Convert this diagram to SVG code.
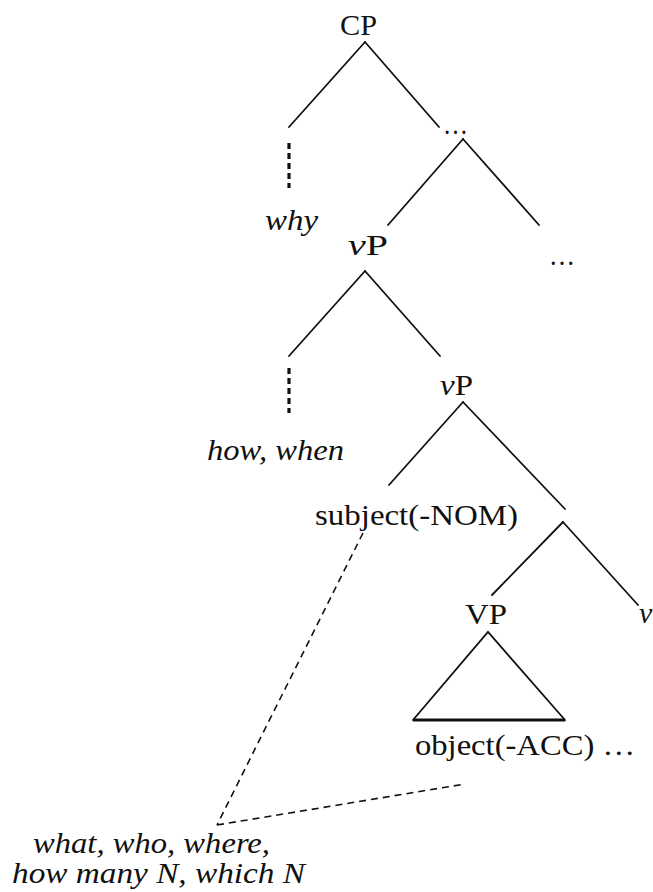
<svg xmlns="http://www.w3.org/2000/svg" width="653" height="892" viewBox="0 0 653 892">
<style>
text{font-family:"Liberation Serif","Times New Roman",serif;font-size:30px;fill:#111}
.i{font-style:italic}
.ln{stroke:#111;stroke-width:1.8;fill:none;stroke-linecap:round}
.dot{stroke:#111;stroke-width:3.2;stroke-dasharray:6 4;fill:none}
.dsh{stroke:#111;stroke-width:1.6;stroke-dasharray:7 5;fill:none}
.base{stroke:#111;stroke-width:3;fill:none}
</style>
<rect width="653" height="892" fill="#fff"/>
<g id="connectors">
<line class="ln" x1="365" y1="42" x2="289" y2="127"/>
<line class="ln" x1="365" y1="42" x2="439" y2="127"/>
<line class="ln" x1="463" y1="139" x2="388" y2="225"/>
<line class="ln" x1="463" y1="139" x2="539" y2="225"/>
<line class="dot" x1="289" y1="143" x2="289" y2="188"/>
<line class="ln" x1="365" y1="271" x2="289" y2="356"/>
<line class="ln" x1="365" y1="271" x2="440" y2="356"/>
<line class="dot" x1="289" y1="368" x2="289" y2="413"/>
<line class="ln" x1="463" y1="402" x2="389" y2="485"/>
<line class="ln" x1="463" y1="402" x2="565" y2="509"/>
<line class="ln" x1="563" y1="522" x2="492" y2="595"/>
<line class="ln" x1="563" y1="522" x2="638" y2="605"/>
<line class="dsh" x1="363" y1="533" x2="217" y2="825"/>
<line class="dsh" x1="217" y1="825" x2="465" y2="784"/>
</g>
<g id="CP"><text x="340" y="35" textLength="37" lengthAdjust="spacingAndGlyphs">CP</text></g>
<g id="dots1"><text x="443" y="134" textLength="25" lengthAdjust="spacingAndGlyphs">…</text></g>
<g id="why"><text class="i" x="265" y="230" textLength="53" lengthAdjust="spacingAndGlyphs">why</text></g>
<g id="vP1"><text x="348" y="255" textLength="40" lengthAdjust="spacingAndGlyphs"><tspan class="i">v</tspan>P</text></g>
<g id="dots2"><text x="549" y="265" textLength="26" lengthAdjust="spacingAndGlyphs">…</text></g>
<g id="howwhen"><text class="i" x="207" y="460" textLength="137" lengthAdjust="spacingAndGlyphs">how, when</text></g>
<g id="vP2"><text x="440" y="395" textLength="33" lengthAdjust="spacingAndGlyphs"><tspan class="i">v</tspan>P</text></g>
<g id="subject"><text x="315" y="525" textLength="203" lengthAdjust="spacingAndGlyphs">subject(-NOM)</text></g>
<g id="VP"><text x="465" y="624" textLength="42" lengthAdjust="spacingAndGlyphs">VP</text></g>
<g id="v"><text class="i" x="639" y="623">v</text></g>
<g id="VPtriangle">
<path class="ln" d="M413,720 L488,632 L565,720"/>
<line class="base" x1="413" y1="720" x2="565" y2="720"/>
</g>
<g id="object"><text x="415" y="755" textLength="220" lengthAdjust="spacingAndGlyphs">object(-ACC) …</text></g>
<g id="wh">
<text class="i" x="33" y="853" textLength="237" lengthAdjust="spacingAndGlyphs">what, who, where,</text>
<text class="i" x="12" y="883" textLength="293" lengthAdjust="spacingAndGlyphs">how many N, which N</text>
</g>
</svg>
